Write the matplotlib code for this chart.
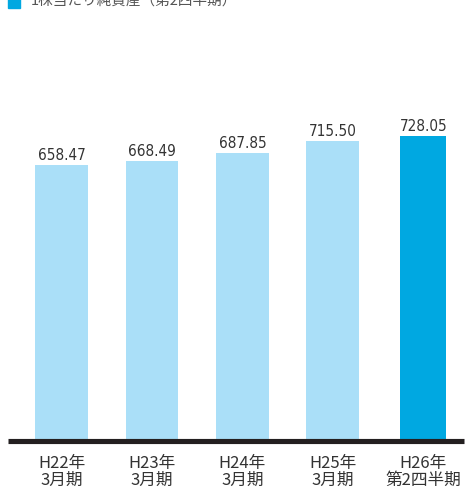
import matplotlib
matplotlib.use("Agg")
import matplotlib.pyplot as plt
from matplotlib.patches import Rectangle

# net assets per share
periods = ["H22年\n3月期", "H23年\n3月期", "H24年\n3月期", "H25年\n3月期", "H26年\n第2四半期"]
values = [658.47, 668.49, 687.85, 715.50, 728.05]
value_labels = ["658.47", "668.49", "687.85", "715.50", "728.05"]
title = "1株当たり純資産（第2四半期）"

light_blue = "#aadff8"
accent_blue = "#00a8e1"
dark = "#231f20"
text_color = "#333333"

plt.rcParams["font.family"] = ["Noto Sans CJK JP", "DejaVu Sans"]

W, H = 465, 493
fig = plt.figure(figsize=(W / 100, H / 100), dpi=100)

# axes area in pixel coordinates (from top-left)
left_px, right_px = 8, 464
bottom_px, top_px = 441, 30
ax = fig.add_axes([left_px / W, 1 - bottom_px / H,
                   (right_px - left_px) / W, (bottom_px - top_px) / H])

x = list(range(len(values)))
colors = [light_blue] * (len(values) - 1) + [accent_blue]
widths = [0.585] * (len(values) - 1) + [0.51]
bars = ax.bar(x, values, width=widths, color=colors, linewidth=0)

px_per_unit = 0.419
ax.set_ylim(0, (bottom_px - top_px) / px_per_unit)
ax.set_xlim(-0.592, 4.45)

for rect, lab in zip(bars, value_labels):
    ax.annotate(lab, (rect.get_x() + rect.get_width() / 2, rect.get_height()),
                xytext=(0, 1.5), textcoords="offset points",
                ha="center", va="bottom", fontsize=11, color=text_color,
                family="DejaVu Sans", fontstretch="condensed")

ax.set_xticks(x)
ax.set_xticklabels(periods, fontsize=12, color=text_color, linespacing=0.98)
ax.tick_params(axis="x", length=0, pad=10)
ax.set_yticks([])
for side in ["top", "right", "left"]:
    ax.spines[side].set_visible(False)
ax.spines["bottom"].set_linewidth(3.7)
ax.spines["bottom"].set_color(dark)
ax.spines["bottom"].set_capstyle("butt")

# legend-style title, partly outside the top edge
fig.patches.append(Rectangle((8 / W, 1 - 8 / H), 12 / W, 14 / H,
                             transform=fig.transFigure, color=accent_blue))
fig.text(31 / W, 1 - 5 / H, title, fontsize=10.5, color="#555555",
         ha="left", va="baseline")

fig.savefig("out.png", dpi=100)
